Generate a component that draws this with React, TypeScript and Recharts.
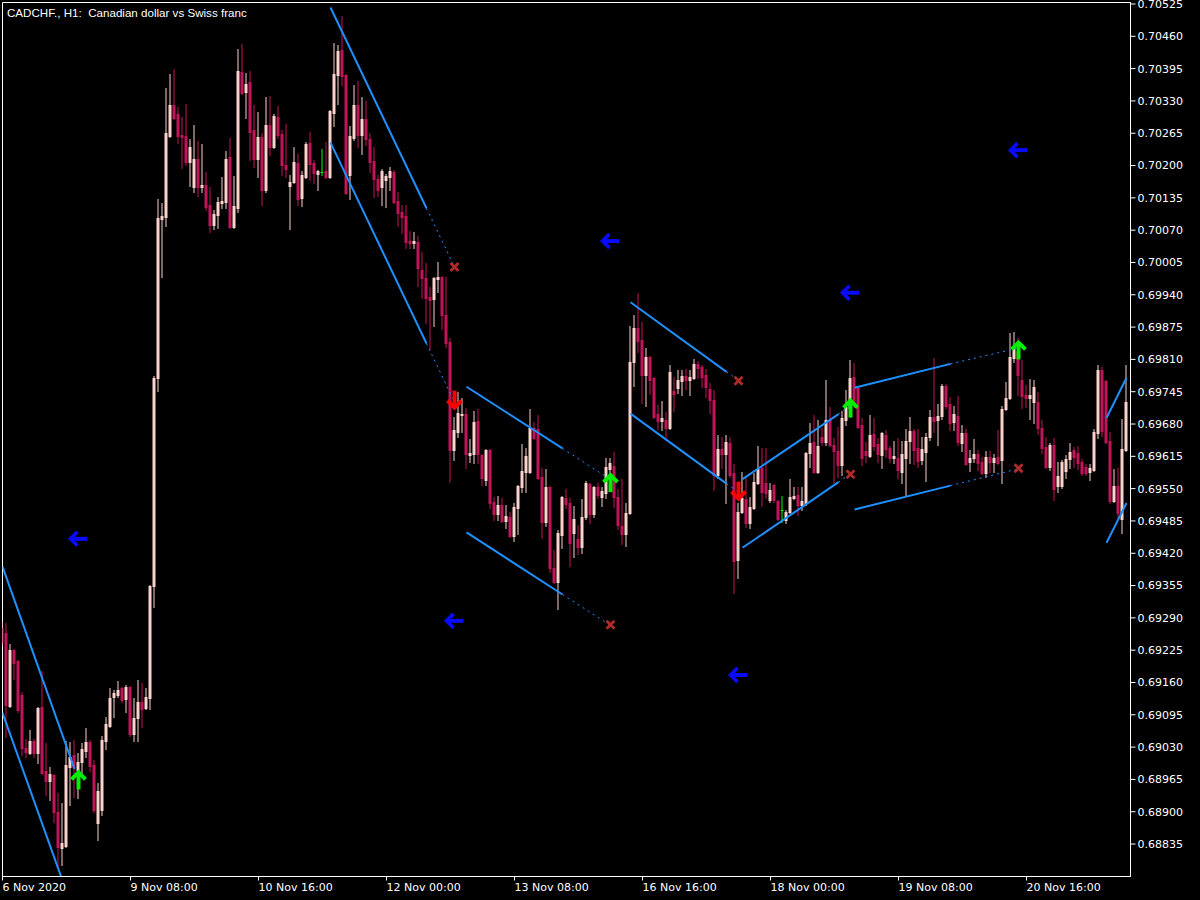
import React from "react";
import {
  ComposedChart,
  Bar,
  XAxis,
  YAxis,
  ReferenceLine,
  ReferenceDot,
  ReferenceArea,
} from "recharts";

// CADCHF H1 bars, 6 Nov 2020 00:00 onwards (one entry per hour)
const opens = [
  0.69270, 0.69260, 0.69113, 0.69225, 0.69203, 0.69135, 0.69028, 0.69018, 0.69042, 0.69018,
  0.69111, 0.68982, 0.68962, 0.68974, 0.68899, 0.68827, 0.68831, 0.68990, 0.69014, 0.68984,
  0.69000, 0.69022, 0.69040, 0.68994, 0.68877, 0.68903, 0.69042, 0.69072, 0.69131, 0.69135,
  0.69149, 0.69127, 0.69151, 0.69056, 0.69089, 0.69121, 0.69109, 0.69129, 0.69354, 0.69773,
  0.70092, 0.70096, 0.70259, 0.70322, 0.70304, 0.70261, 0.70259, 0.70207, 0.70157, 0.70213,
  0.70157, 0.70161, 0.70121, 0.70080, 0.70100, 0.70125, 0.70127, 0.70217, 0.70076, 0.70115,
  0.70388, 0.70348, 0.70368, 0.70271, 0.70213, 0.70257, 0.70151, 0.70282, 0.70237, 0.70298,
  0.70263, 0.70201, 0.70159, 0.70167, 0.70205, 0.70135, 0.70177, 0.70245, 0.70205, 0.70183,
  0.70187, 0.70189, 0.70177, 0.70306, 0.70382, 0.70432, 0.70382, 0.70181, 0.70255, 0.70322,
  0.70261, 0.70294, 0.70253, 0.70209, 0.70173, 0.70157, 0.70171, 0.70177, 0.70187, 0.70129,
  0.70106, 0.70098, 0.70048, 0.70044, 0.70046, 0.69990, 0.69974, 0.69935, 0.69931, 0.69972,
  0.69976, 0.69899, 0.69845, 0.69628, 0.69664, 0.69698, 0.69700, 0.69618, 0.69620, 0.69686,
  0.69618, 0.69567, 0.69628, 0.69523, 0.69499, 0.69517, 0.69485, 0.69493, 0.69455, 0.69511,
  0.69553, 0.69583, 0.69583, 0.69672, 0.69670, 0.69573, 0.69483, 0.69553, 0.69390, 0.69362,
  0.69457, 0.69531, 0.69521, 0.69461, 0.69449, 0.69433, 0.69493, 0.69559, 0.69499, 0.69553,
  0.69533, 0.69541, 0.69589, 0.69596, 0.69533, 0.69475, 0.69459, 0.69501, 0.69805, 0.69873,
  0.69849, 0.69779, 0.69815, 0.69773, 0.69700, 0.69686, 0.69688, 0.69672, 0.69746, 0.69752,
  0.69767, 0.69777, 0.69769, 0.69773, 0.69801, 0.69795, 0.69779, 0.69750, 0.69728, 0.69577,
  0.69630, 0.69620, 0.69642, 0.69581, 0.69406, 0.69503, 0.69529, 0.69481, 0.69511, 0.69561,
  0.69591, 0.69561, 0.69527, 0.69557, 0.69525, 0.69507, 0.69487, 0.69503, 0.69531, 0.69537,
  0.69517, 0.69521, 0.69622, 0.69644, 0.69583, 0.69654, 0.69644, 0.69688, 0.69638, 0.69626,
  0.69598, 0.69688, 0.69712, 0.69775, 0.69752, 0.69678, 0.69626, 0.69616, 0.69660, 0.69640,
  0.69618, 0.69658, 0.69632, 0.69612, 0.69612, 0.69583, 0.69612, 0.69646, 0.69666, 0.69632,
  0.69608, 0.69624, 0.69654, 0.69694, 0.69688, 0.69696, 0.69756, 0.69720, 0.69684, 0.69696,
  0.69642, 0.69662, 0.69604, 0.69612, 0.69620, 0.69604, 0.69581, 0.69614, 0.69604, 0.69614,
  0.69608, 0.69710, 0.69732, 0.69813, 0.69825, 0.69769, 0.69738, 0.69732, 0.69724, 0.69724,
  0.69672, 0.69634, 0.69593, 0.69638, 0.69555, 0.69555, 0.69585, 0.69610, 0.69628, 0.69622,
  0.69604, 0.69593, 0.69583, 0.69587, 0.69662, 0.69789, 0.69767, 0.69646, 0.69525, 0.69555,
  0.69489, 0.69628,
];

const highs = [
  0.69282, 0.69280, 0.69237, 0.69227, 0.69205, 0.69141, 0.69046, 0.69064, 0.69046, 0.69111,
  0.69183, 0.69038, 0.68990, 0.68976, 0.68938, 0.68918, 0.69042, 0.69040, 0.69044, 0.69018,
  0.69038, 0.69068, 0.69044, 0.69004, 0.68958, 0.69052, 0.69091, 0.69149, 0.69145, 0.69163,
  0.69151, 0.69155, 0.69153, 0.69129, 0.69165, 0.69159, 0.69149, 0.69356, 0.69777, 0.70133,
  0.70125, 0.70356, 0.70384, 0.70394, 0.70318, 0.70298, 0.70324, 0.70253, 0.70282, 0.70249,
  0.70243, 0.70187, 0.70157, 0.70111, 0.70137, 0.70177, 0.70229, 0.70255, 0.70179, 0.70434,
  0.70444, 0.70386, 0.70390, 0.70322, 0.70308, 0.70265, 0.70338, 0.70340, 0.70304, 0.70320,
  0.70271, 0.70284, 0.70181, 0.70237, 0.70223, 0.70189, 0.70247, 0.70267, 0.70211, 0.70191,
  0.70233, 0.70247, 0.70312, 0.70446, 0.70442, 0.70501, 0.70384, 0.70280, 0.70362, 0.70370,
  0.70338, 0.70330, 0.70265, 0.70237, 0.70181, 0.70193, 0.70183, 0.70197, 0.70191, 0.70147,
  0.70121, 0.70121, 0.70068, 0.70066, 0.70058, 0.70026, 0.70004, 0.69956, 0.69976, 0.70006,
  0.69978, 0.69976, 0.69853, 0.69694, 0.69744, 0.69732, 0.69712, 0.69650, 0.69706, 0.69710,
  0.69620, 0.69630, 0.69630, 0.69533, 0.69535, 0.69531, 0.69517, 0.69503, 0.69521, 0.69557,
  0.69640, 0.69632, 0.69710, 0.69684, 0.69698, 0.69591, 0.69589, 0.69555, 0.69427, 0.69467,
  0.69535, 0.69549, 0.69531, 0.69515, 0.69477, 0.69529, 0.69565, 0.69561, 0.69555, 0.69561,
  0.69553, 0.69612, 0.69612, 0.69624, 0.69549, 0.69569, 0.69521, 0.69877, 0.69899, 0.69944,
  0.69885, 0.69833, 0.69817, 0.69775, 0.69718, 0.69726, 0.69704, 0.69799, 0.69775, 0.69789,
  0.69789, 0.69791, 0.69789, 0.69811, 0.69807, 0.69799, 0.69791, 0.69762, 0.69748, 0.69658,
  0.69654, 0.69658, 0.69654, 0.69600, 0.69521, 0.69583, 0.69571, 0.69533, 0.69581, 0.69636,
  0.69632, 0.69632, 0.69561, 0.69559, 0.69527, 0.69535, 0.69507, 0.69569, 0.69553, 0.69553,
  0.69553, 0.69624, 0.69682, 0.69698, 0.69688, 0.69672, 0.69769, 0.69714, 0.69652, 0.69674,
  0.69706, 0.69748, 0.69809, 0.69803, 0.69754, 0.69692, 0.69644, 0.69698, 0.69692, 0.69652,
  0.69664, 0.69668, 0.69636, 0.69646, 0.69652, 0.69646, 0.69670, 0.69694, 0.69670, 0.69670,
  0.69654, 0.69662, 0.69708, 0.69813, 0.69720, 0.69760, 0.69760, 0.69734, 0.69716, 0.69736,
  0.69678, 0.69670, 0.69628, 0.69650, 0.69628, 0.69614, 0.69626, 0.69626, 0.69620, 0.69668,
  0.69716, 0.69764, 0.69863, 0.69865, 0.69853, 0.69809, 0.69758, 0.69771, 0.69769, 0.69744,
  0.69688, 0.69654, 0.69642, 0.69652, 0.69604, 0.69608, 0.69618, 0.69642, 0.69634, 0.69636,
  0.69610, 0.69600, 0.69600, 0.69670, 0.69799, 0.69795, 0.69769, 0.69664, 0.69589, 0.69591,
  0.69690, 0.69799,
];

const lows = [
  0.69235, 0.69050, 0.69111, 0.69167, 0.69101, 0.69014, 0.69010, 0.69016, 0.69010, 0.68998,
  0.68976, 0.68934, 0.68924, 0.68879, 0.68789, 0.68793, 0.68829, 0.68914, 0.68930, 0.68928,
  0.68978, 0.69010, 0.68982, 0.68899, 0.68843, 0.68893, 0.69026, 0.69070, 0.69091, 0.69131,
  0.69121, 0.69101, 0.69052, 0.69042, 0.69042, 0.69070, 0.69107, 0.69107, 0.69312, 0.69746,
  0.69976, 0.70078, 0.70257, 0.70294, 0.70245, 0.70195, 0.70201, 0.70159, 0.70147, 0.70139,
  0.70147, 0.70111, 0.70066, 0.70072, 0.70074, 0.70115, 0.70115, 0.70074, 0.70074, 0.70106,
  0.70344, 0.70296, 0.70211, 0.70197, 0.70177, 0.70121, 0.70147, 0.70221, 0.70235, 0.70255,
  0.70181, 0.70177, 0.70072, 0.70165, 0.70121, 0.70119, 0.70175, 0.70171, 0.70165, 0.70151,
  0.70181, 0.70175, 0.70175, 0.70280, 0.70324, 0.70362, 0.70143, 0.70133, 0.70251, 0.70237,
  0.70223, 0.70241, 0.70187, 0.70137, 0.70139, 0.70121, 0.70117, 0.70151, 0.70125, 0.70078,
  0.70064, 0.70034, 0.70034, 0.70034, 0.69958, 0.69933, 0.69883, 0.69831, 0.69877, 0.69946,
  0.69871, 0.69835, 0.69563, 0.69608, 0.69654, 0.69664, 0.69591, 0.69604, 0.69602, 0.69602,
  0.69557, 0.69557, 0.69511, 0.69487, 0.69487, 0.69483, 0.69471, 0.69453, 0.69445, 0.69459,
  0.69543, 0.69543, 0.69581, 0.69650, 0.69569, 0.69451, 0.69475, 0.69382, 0.69360, 0.69308,
  0.69431, 0.69511, 0.69394, 0.69412, 0.69418, 0.69420, 0.69489, 0.69481, 0.69493, 0.69531,
  0.69515, 0.69531, 0.69573, 0.69513, 0.69469, 0.69439, 0.69435, 0.69499, 0.69756, 0.69825,
  0.69722, 0.69716, 0.69740, 0.69692, 0.69670, 0.69668, 0.69648, 0.69670, 0.69706, 0.69742,
  0.69738, 0.69750, 0.69738, 0.69771, 0.69773, 0.69754, 0.69734, 0.69702, 0.69547, 0.69571,
  0.69591, 0.69521, 0.69573, 0.69340, 0.69370, 0.69501, 0.69473, 0.69471, 0.69509, 0.69559,
  0.69515, 0.69531, 0.69523, 0.69523, 0.69487, 0.69483, 0.69481, 0.69501, 0.69529, 0.69497,
  0.69507, 0.69517, 0.69593, 0.69581, 0.69581, 0.69638, 0.69638, 0.69636, 0.69561, 0.69573,
  0.69577, 0.69678, 0.69708, 0.69714, 0.69672, 0.69598, 0.69604, 0.69614, 0.69628, 0.69604,
  0.69591, 0.69614, 0.69604, 0.69602, 0.69571, 0.69561, 0.69537, 0.69602, 0.69600, 0.69593,
  0.69600, 0.69565, 0.69648, 0.69664, 0.69638, 0.69690, 0.69712, 0.69668, 0.69668, 0.69638,
  0.69626, 0.69598, 0.69585, 0.69604, 0.69587, 0.69579, 0.69573, 0.69583, 0.69583, 0.69600,
  0.69561, 0.69708, 0.69730, 0.69805, 0.69738, 0.69712, 0.69714, 0.69690, 0.69682, 0.69660,
  0.69622, 0.69591, 0.69587, 0.69527, 0.69543, 0.69551, 0.69571, 0.69591, 0.69593, 0.69589,
  0.69577, 0.69577, 0.69567, 0.69585, 0.69652, 0.69656, 0.69642, 0.69521, 0.69523, 0.69493,
  0.69461, 0.69626,
];

const closes = [
  0.69241, 0.69115, 0.69225, 0.69199, 0.69105, 0.69028, 0.69020, 0.69042, 0.69018, 0.69109,
  0.68978, 0.68962, 0.68976, 0.68899, 0.68829, 0.68837, 0.68994, 0.69010, 0.68990, 0.69000,
  0.69026, 0.69040, 0.68992, 0.68903, 0.68942, 0.69044, 0.69076, 0.69129, 0.69139, 0.69145,
  0.69125, 0.69151, 0.69056, 0.69089, 0.69121, 0.69107, 0.69131, 0.69354, 0.69773, 0.70094,
  0.70098, 0.70265, 0.70322, 0.70296, 0.70259, 0.70257, 0.70207, 0.70237, 0.70213, 0.70157,
  0.70161, 0.70117, 0.70080, 0.70102, 0.70127, 0.70129, 0.70213, 0.70076, 0.70119, 0.70390,
  0.70346, 0.70364, 0.70267, 0.70213, 0.70257, 0.70151, 0.70282, 0.70237, 0.70300, 0.70261,
  0.70201, 0.70193, 0.70167, 0.70207, 0.70133, 0.70181, 0.70243, 0.70203, 0.70185, 0.70189,
  0.70187, 0.70177, 0.70310, 0.70384, 0.70430, 0.70380, 0.70145, 0.70259, 0.70322, 0.70261,
  0.70294, 0.70253, 0.70207, 0.70173, 0.70151, 0.70189, 0.70179, 0.70189, 0.70127, 0.70104,
  0.70096, 0.70046, 0.70044, 0.70048, 0.69994, 0.69974, 0.69933, 0.69929, 0.69974, 0.69976,
  0.69899, 0.69843, 0.69628, 0.69668, 0.69702, 0.69700, 0.69620, 0.69622, 0.69684, 0.69620,
  0.69571, 0.69628, 0.69521, 0.69499, 0.69517, 0.69485, 0.69495, 0.69455, 0.69513, 0.69555,
  0.69585, 0.69616, 0.69672, 0.69652, 0.69571, 0.69483, 0.69553, 0.69390, 0.69362, 0.69461,
  0.69533, 0.69519, 0.69441, 0.69489, 0.69433, 0.69493, 0.69561, 0.69499, 0.69553, 0.69537,
  0.69545, 0.69593, 0.69602, 0.69533, 0.69477, 0.69459, 0.69501, 0.69805, 0.69873, 0.69847,
  0.69779, 0.69815, 0.69769, 0.69694, 0.69686, 0.69692, 0.69672, 0.69785, 0.69740, 0.69769,
  0.69777, 0.69769, 0.69775, 0.69801, 0.69793, 0.69775, 0.69754, 0.69728, 0.69577, 0.69630,
  0.69620, 0.69644, 0.69577, 0.69404, 0.69503, 0.69531, 0.69481, 0.69513, 0.69563, 0.69589,
  0.69543, 0.69541, 0.69547, 0.69527, 0.69489, 0.69507, 0.69503, 0.69533, 0.69535, 0.69517,
  0.69525, 0.69622, 0.69642, 0.69583, 0.69636, 0.69644, 0.69688, 0.69638, 0.69626, 0.69598,
  0.69692, 0.69714, 0.69773, 0.69722, 0.69674, 0.69612, 0.69618, 0.69658, 0.69636, 0.69620,
  0.69662, 0.69630, 0.69612, 0.69616, 0.69587, 0.69620, 0.69646, 0.69666, 0.69628, 0.69606,
  0.69630, 0.69654, 0.69694, 0.69686, 0.69696, 0.69756, 0.69716, 0.69682, 0.69700, 0.69644,
  0.69662, 0.69600, 0.69612, 0.69620, 0.69602, 0.69581, 0.69614, 0.69604, 0.69612, 0.69602,
  0.69710, 0.69732, 0.69815, 0.69831, 0.69779, 0.69736, 0.69732, 0.69738, 0.69754, 0.69672,
  0.69632, 0.69593, 0.69638, 0.69549, 0.69575, 0.69604, 0.69610, 0.69624, 0.69614, 0.69602,
  0.69581, 0.69581, 0.69591, 0.69664, 0.69789, 0.69666, 0.69644, 0.69525, 0.69555, 0.69501,
  0.69630, 0.69724,
];

// time axis labels (bar index -> label)
const dateTickIndex = [0, 32, 64, 96, 128, 160, 192, 224, 256];
const dateTickLabels = [
  "6 Nov 2020",
  "9 Nov 08:00",
  "10 Nov 16:00",
  "12 Nov 00:00",
  "13 Nov 08:00",
  "16 Nov 16:00",
  "18 Nov 00:00",
  "19 Nov 08:00",
  "20 Nov 16:00",
];

const priceTicks = [
  0.70525, 0.7046, 0.70395, 0.7033, 0.70265, 0.702, 0.70135, 0.7007, 0.70005,
  0.6994, 0.69875, 0.6981, 0.69745, 0.6968, 0.69615, 0.6955, 0.69485, 0.6942,
  0.69355, 0.6929, 0.69225, 0.6916, 0.69095, 0.6903, 0.68965, 0.689, 0.68835,
];

// indicator signals (bar index, price)
const buyIdx = [19, 152, 212, 254];
const buyPrice = [0.68965, 0.69563, 0.69713, 0.6983];
const sellIdx = [113, 184];
const sellPrice = [0.69727, 0.69544];
const stopIdx = [19, 113, 152, 184, 212, 254];
const stopPrice = [0.69449, 0.69284, 0.70048, 0.69175, 0.69944, 0.70231];
const crossIdx = [113, 152, 184, 212, 254];
const crossPrice = [0.69996, 0.69276, 0.69767, 0.69579, 0.69591];

// channel borders: [fromBar, fromPrice, toBar, toPrice]
const channelLines = [
  [0, 0.69393, 18, 0.68986],
  [0, 0.69099, 18, 0.68694],
  [82, 0.70518, 106, 0.70114],
  [82, 0.70246, 106, 0.69842],
  [116, 0.69755, 140, 0.69631],
  [116, 0.69462, 140, 0.69337],
  [157, 0.69925, 181, 0.69785],
  [157, 0.69701, 181, 0.6956],
  [185, 0.69569, 209, 0.697],
  [185, 0.69431, 209, 0.69563],
  [213, 0.69753, 237, 0.69801],
  [213, 0.69508, 237, 0.69556],
  [276, 0.69692, 281, 0.69773],
  [276, 0.69441, 281, 0.69521],
];
const projectedLines = [
  [106, 0.70114, 113, 0.69996],
  [106, 0.69842, 113, 0.69724],
  [140, 0.69631, 152, 0.69568],
  [140, 0.69337, 152, 0.69275],
  [181, 0.69785, 184, 0.69768],
  [181, 0.6956, 184, 0.69543],
  [209, 0.697, 212, 0.69717],
  [209, 0.69563, 212, 0.6958],
  [237, 0.69801, 254, 0.69833],
  [237, 0.69556, 254, 0.6959],
];

const Y_MIN = 0.687697;
const Y_MAX = 0.70528;
const X_MAX = opens.length;

const BULL = "#fcd2cc";
const BEAR = "#c3145a";
const DOJI = "#00ff00";
const LINE = "#1e90ff";
const AXIS_FONT = "'DejaVu Sans', sans-serif";

const candles = opens.map((o, i) => ({
  i,
  open: o,
  high: highs[i],
  low: lows[i],
  close: closes[i],
  range: [lows[i], highs[i]],
}));

function Candle(props: any) {
  const { x, y, width, height, payload } = props;
  if (!payload) return <g />;
  const { open, close, high, low } = payload;
  const top = Math.min(y, y + height);
  const bottom = Math.max(y, y + height);
  const span = high - low || 1;
  const toY = (p: number) => top + ((high - p) / span) * (bottom - top);
  const cx = x + width / 2;
  const color = close > open ? BULL : close < open ? BEAR : DOJI;
  const yo = Math.round(toY(open));
  const yc = Math.round(toY(close));
  const wt = Math.round(top);
  const wb = Math.round(bottom);
  return (
    <g>
      <rect x={cx - 0.5} y={wt} width={1} height={Math.max(1, wb - wt + 1)} fill={color} />
      <rect
        x={cx - 1.5}
        y={Math.min(yo, yc)}
        width={3}
        height={Math.max(1, Math.abs(yc - yo) + 1)}
        fill={color}
      />
    </g>
  );
}

const UpArrow = ({ cx, cy }: any) => (
  <g>
    <path
      d={`M${cx - 7},${cy} L${cx},${cy - 7} L${cx + 7},${cy}`}
      stroke="#00ee00"
      strokeWidth={4}
      fill="none"
    />
    <rect x={cx - 2} y={cy - 7} width={4} height={17} fill="#00ee00" />
  </g>
);

const DownArrow = ({ cx, cy }: any) => (
  <g>
    <path
      d={`M${cx - 7},${cy} L${cx},${cy + 7} L${cx + 7},${cy}`}
      stroke="#ff0000"
      strokeWidth={4}
      fill="none"
    />
    <rect x={cx - 2} y={cy - 10} width={4} height={17} fill="#ff0000" />
  </g>
);

const LeftArrow = ({ cx, cy }: any) => (
  <g>
    <path
      d={`M${cx - 1},${cy - 7} L${cx - 8},${cy} L${cx - 1},${cy + 7}`}
      stroke="#0a0aff"
      strokeWidth={3.6}
      fill="none"
    />
    <rect x={cx - 8} y={cy - 2} width={17} height={4} fill="#0a0aff" />
  </g>
);

const Cross = ({ cx, cy }: any) => (
  <path
    d={`M${cx - 4},${cy - 4} L${cx + 4},${cy + 4} M${cx - 4},${cy + 4} L${cx + 4},${cy - 4}`}
    stroke="#b02a28"
    strokeWidth={2.8}
  />
);

const DateTick = ({ x, y, payload }: any) => {
  const j = dateTickIndex.indexOf(payload.value);
  return (
    <text
      x={x}
      y={y}
      dy="0.71em"
      fill="#ffffff"
      fontSize={11}
      fontFamily={AXIS_FONT}
      textAnchor="start"
    >
      {j >= 0 ? dateTickLabels[j] : ""}
    </text>
  );
};

export default function App() {
  return (
    <div
      style={{
        position: "absolute",
        left: 0,
        top: 0,
        width: 1200,
        height: 900,
        background: "#000000",
        overflow: "hidden",
      }}
    >
      <ComposedChart
        width={1200}
        height={900}
        data={candles}
        margin={{ top: 2.5, right: 0, bottom: 0, left: 2.5 }}
      >
        <XAxis
          dataKey="i"
          type="number"
          domain={[0, X_MAX]}
          allowDataOverflow
          ticks={dateTickIndex}
          interval={0}
          height={23.5}
          tickSize={4}
          tickMargin={3}
          axisLine={{ stroke: "#ffffff" }}
          tickLine={{ stroke: "#ffffff" }}
          tick={<DateTick />}
        />
        <YAxis
          orientation="right"
          type="number"
          domain={[Y_MIN, Y_MAX]}
          allowDataOverflow
          ticks={priceTicks}
          interval={0}
          width={69.5}
          tickSize={5}
          tickMargin={2}
          axisLine={{ stroke: "#ffffff" }}
          tickLine={{ stroke: "#ffffff" }}
          tick={{ fill: "#ffffff", fontSize: 11, fontFamily: AXIS_FONT }}
          tickFormatter={(v: number) => v.toFixed(5)}
        />

        <Bar dataKey="range" barSize={3} isAnimationActive={false} shape={<Candle />} />

        {/* channel borders */}
        {channelLines.map((s, n) => (
          <ReferenceLine
            key={`c${n}`}
            segment={[
              { x: s[0], y: s[1] },
              { x: s[2], y: s[3] },
            ]}
            stroke={LINE}
            strokeWidth={2}
            ifOverflow="hidden"
          />
        ))}
        {/* projected borders */}
        {projectedLines.map((s, n) => (
          <ReferenceLine
            key={`p${n}`}
            segment={[
              { x: s[0], y: s[1] },
              { x: s[2], y: s[3] },
            ]}
            stroke={LINE}
            strokeWidth={1}
            strokeDasharray="2 4"
            ifOverflow="hidden"
          />
        ))}

        {crossIdx.map((k, n) => (
          <ReferenceDot key={`x${n}`} x={k} y={crossPrice[n]} shape={(p: any) => <Cross {...p} />} />
        ))}
        {stopIdx.map((k, n) => (
          <ReferenceDot key={`l${n}`} x={k} y={stopPrice[n]} shape={(p: any) => <LeftArrow {...p} />} />
        ))}
        {buyIdx.map((k, n) => (
          <ReferenceDot key={`b${n}`} x={k} y={buyPrice[n]} shape={(p: any) => <UpArrow {...p} />} />
        ))}
        {sellIdx.map((k, n) => (
          <ReferenceDot key={`s${n}`} x={k} y={sellPrice[n]} shape={(p: any) => <DownArrow {...p} />} />
        ))}

        {/* chart frame */}
        <ReferenceArea
          x1={0}
          x2={X_MAX}
          y1={Y_MIN}
          y2={Y_MAX}
          fill="none"
          stroke="#ffffff"
          strokeWidth={1}
          ifOverflow="visible"
        />
      </ComposedChart>

      <div
        style={{
          position: "absolute",
          left: 7,
          top: 6,
          color: "#ffffff",
          fontFamily: "'Liberation Sans', Arial, sans-serif",
          fontSize: 11.6,
          lineHeight: "14px",
          whiteSpace: "pre",
        }}
      >
        {"CADCHF., H1:  Canadian dollar vs Swiss franc"}
      </div>
    </div>
  );
}
